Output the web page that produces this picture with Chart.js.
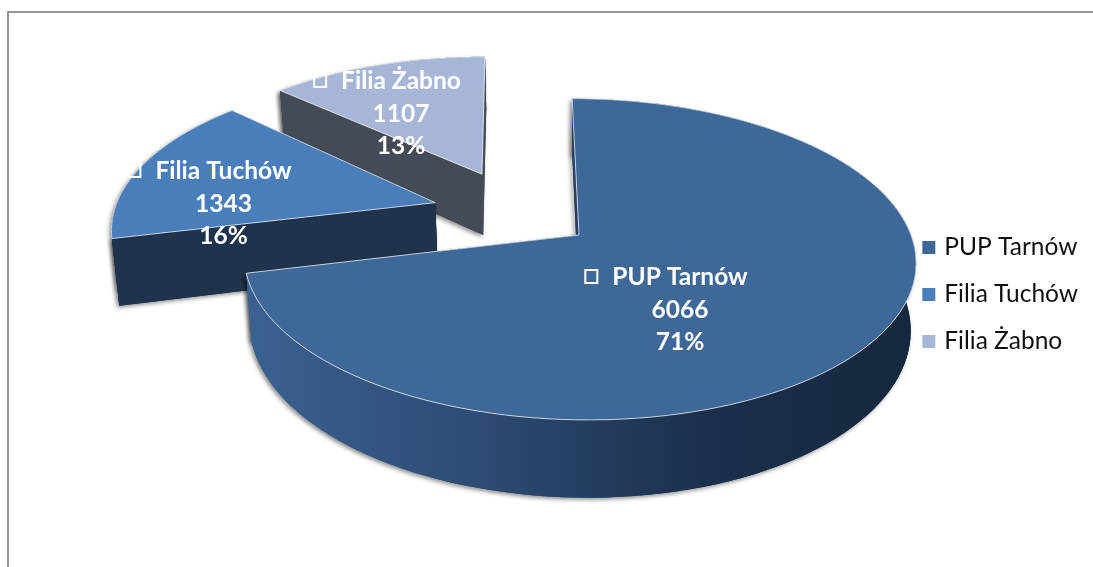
<!DOCTYPE html>
<html>
<head>
<meta charset="utf-8">
<script src="https://cdn.jsdelivr.net/npm/chart.js@4/dist/chart.umd.js"></script>
<style>
  html, body { margin: 0; background: #fff; overflow: hidden; }
  #frame { position: absolute; left: 7px; top: 11px; width: 1200px; height: 700px; border: 2px solid #979797; box-sizing: border-box; }
  canvas { position: absolute; left: 0; top: 0; }
</style>
</head>
<body>
<div id="frame"></div>
<canvas id="chart" width="1093" height="567"></canvas>
<script>
const categories = ["PUP Tarnów", "Filia Tuchów", "Filia Żabno"];
const values = [6066, 1343, 1107];
const faceColors = ["#3E6897", "#4A7EBB", "#A7B6D6"];

// projection of the flat pie onto the tilted disc of the picture
const view = { x: 579, y: 235, rx: 332, ry: 157, k: 0.151, skew: 0.05, depth: 66, converge: 0.984 };
const explode = [0, 0.44, 0.6];
const sliceScale = [1, 0.975, 1];
const nudge = [[0, 0], [-4, -15], [-20, 19]];
const labelAnchors = [[680, 310], [223.5, 204], [401, 114]];

function project(u, v, low, i) {
  const s = 1 / (1 - view.k * v);
  let x = view.rx * u * s;
  let y = view.ry * v * s;
  x += view.skew * y;
  if (low) {
    x *= view.converge;
    y += view.depth * s;
  }
  return [view.x + x + nudge[i][0], view.y + y + nudge[i][1]];
}

function outline(ctx, pts) {
  ctx.beginPath();
  pts.forEach((p, n) => (n ? ctx.lineTo(p[0], p[1]) : ctx.moveTo(p[0], p[1])));
  ctx.closePath();
}

const pie3d = {
  id: "pie3d",
  beforeDatasetDraw(chart) {
    const ctx = chart.ctx;
    const arcs = chart.getDatasetMeta(0).data;
    const wallFill = [null, "#1F334D", "#454A57"];
    const grad = ctx.createLinearGradient(245, 0, 915, 0);
    grad.addColorStop(0, "#3A6291");
    grad.addColorStop(0.35, "#2D4B73");
    grad.addColorStop(0.7, "#1A2F4A");
    grad.addColorStop(1, "#16283F");
    wallFill[0] = grad;

    // back slices first
    [2, 1, 0].forEach((i) => {
      const el = arcs[i];
      const mid = (el.startAngle + el.endAngle) / 2;
      const cu = Math.cos(mid) * explode[i];
      const cv = Math.sin(mid) * explode[i];
      const r = sliceScale[i];
      const top = [];
      const low = [];
      for (let n = 0; n <= 120; n++) {
        const a = el.startAngle + (el.endAngle - el.startAngle) * n / 120;
        top.push(project(cu + r * Math.cos(a), cv + r * Math.sin(a), false, i));
        low.push(project(cu + r * Math.cos(a), cv + r * Math.sin(a), true, i));
      }
      const apexTop = project(cu, cv, false, i);
      const apexLow = project(cu, cv, true, i);
      const walls = [
        top.concat(low.slice().reverse()),
        [apexTop, top[0], low[0], apexLow],
        [apexTop, top[120], low[120], apexLow]
      ];

      ctx.save();
      ctx.fillStyle = wallFill[i];
      ctx.shadowColor = "rgba(0,0,0,0.45)";
      ctx.shadowBlur = 4;
      ctx.shadowOffsetX = -2;
      ctx.shadowOffsetY = 2;
      walls.forEach((w) => { outline(ctx, w); ctx.fill(); });
      ctx.shadowColor = "transparent";
      walls.forEach((w) => { outline(ctx, w); ctx.fill(); });

      outline(ctx, [apexTop].concat(top));
      ctx.fillStyle = el.options.backgroundColor;
      ctx.fill();
      ctx.strokeStyle = "rgba(255,255,255,0.7)";
      ctx.lineWidth = 1;
      ctx.stroke();
      ctx.restore();
    });
    return false;
  },
  afterDatasetsDraw(chart) {
    const ctx = chart.ctx;
    const total = values.reduce((a, b) => a + b, 0);
    ctx.save();
    ctx.font = "bold 24.5px Lato";
    ctx.fillStyle = "#fff";
    ctx.textAlign = "center";
    ctx.textBaseline = "middle";
    categories.forEach((name, i) => {
      const [x, y] = labelAnchors[i];
      ctx.fillText(name, x, y - 32.5);
      ctx.fillText(String(values[i]), x, y);
      ctx.fillText(Math.round(values[i] / total * 100) + "%", x, y + 32.5);
      const left = x - ctx.measureText(name).width / 2;
      ctx.strokeStyle = "#fff";
      ctx.lineWidth = 2;
      ctx.strokeRect(left - 27, y - 40, 12, 13);
    });
    ctx.restore();
  }
};

new Chart(document.getElementById("chart"), {
  type: "pie",
  data: {
    labels: categories,
    datasets: [{ data: values, backgroundColor: faceColors, borderWidth: 0 }]
  },
  options: {
    responsive: false,
    animation: false,
    events: [],
    layout: { padding: { top: 22, right: 5 } },
    plugins: {
      tooltip: { enabled: false },
      legend: {
        position: "right",
        labels: {
          usePointStyle: true,
          pointStyle: "rect",
          boxWidth: 6.5,
          boxHeight: 13,
          padding: 22.5,
          color: "#111",
          font: { family: "Lato", size: 24.5 }
        }
      }
    }
  },
  plugins: [pie3d]
});
</script>
</body>
</html>
